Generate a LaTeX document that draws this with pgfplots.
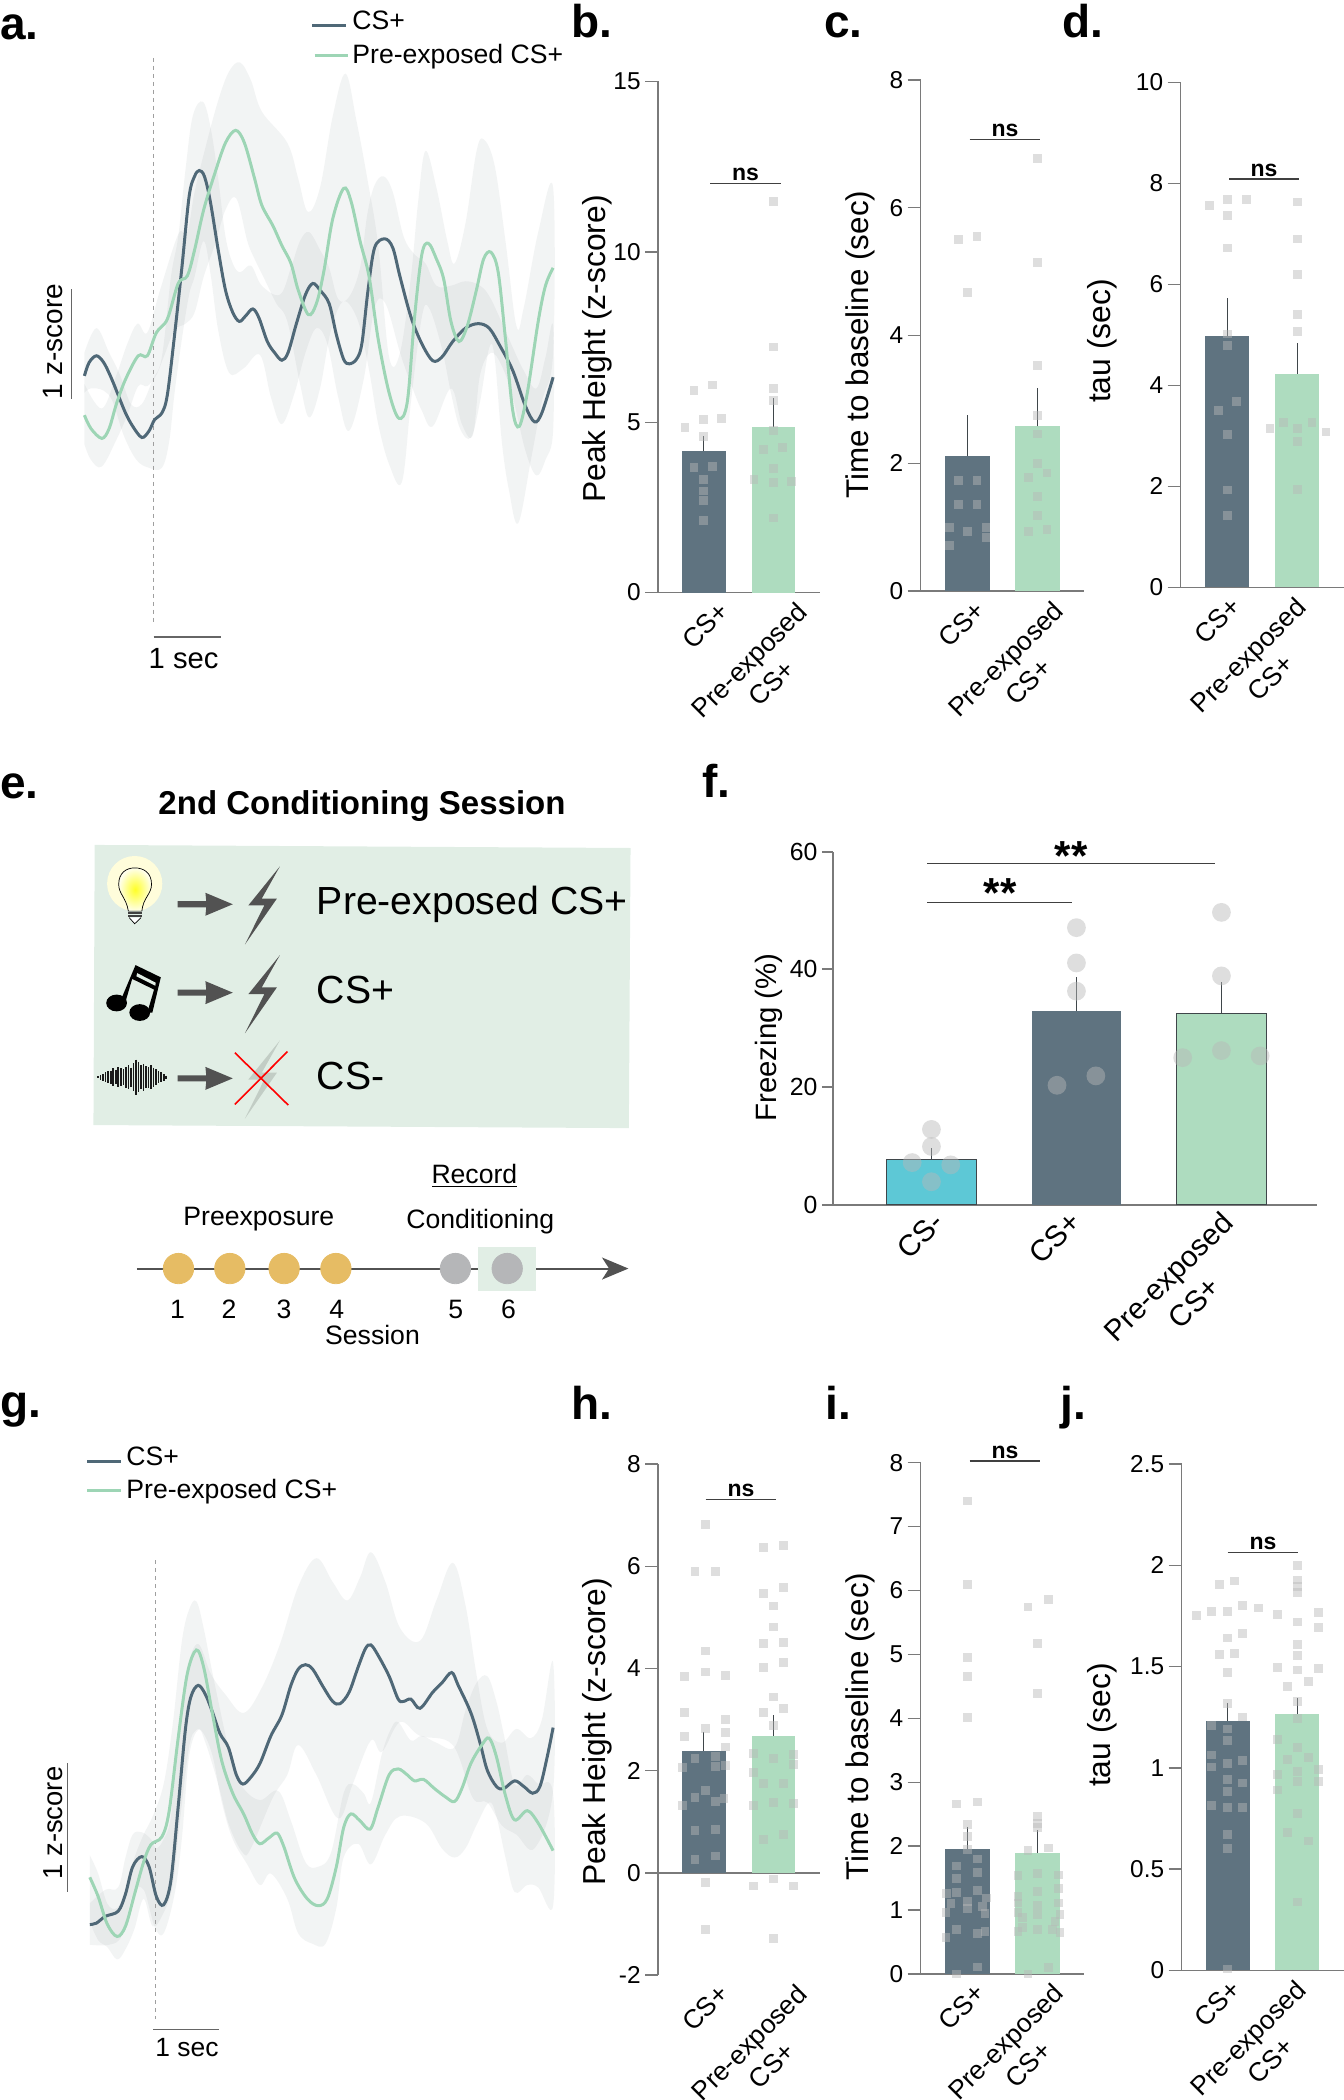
\documentclass[border=0pt]{standalone}
\usepackage{fontspec}
\setmainfont{Liberation Sans}
\usepackage{pgfplots}
\pgfplotsset{compat=1.18}
\definecolor{barD}{HTML}{5F7380}
\definecolor{barG}{HTML}{AEDCBF}
\definecolor{lineD}{HTML}{4F6877}
\definecolor{lineG}{HTML}{9DD5B5}
\definecolor{teal}{HTML}{5DC8D6}
\definecolor{axisgray}{HTML}{7A7A7A}
\definecolor{errc}{HTML}{3F464A}
\definecolor{ptgray}{HTML}{B8B8B8}
\definecolor{bandc}{HTML}{5F6F75}
\definecolor{boxg}{HTML}{E1EEE5}
\newcommand\fs[1]{\fontsize{#1}{#1}\selectfont}
\pgfplotsset{
  ovl/.style={hide axis,scale only axis,clip=false,y dir=reverse},
  trace/.style={hide axis,scale only axis,clip=false,y dir=reverse},
  band/.style={draw=none,fill=bandc,fill opacity=0.08,smooth,tension=0.6},
  mean/.style={line width=1.5pt,smooth,tension=0.55,no marks},
  mini/.style={scale only axis,clip=false,axis lines=left,
    axis line style={-,color=axisgray,line width=0.7pt},
    anchor=south west,
    tick align=outside,major tick length=6.5pt,
    ytick style={color=axisgray,line width=0.7pt},
    xtick style={draw=none},
    ytick pos=left,
    tick label style={font=\fs{12.2}},
    yticklabel style={inner xsep=0pt,xshift=-2pt},
    /pgf/number format/assume math mode=true,
    xticklabel style={rotate=45,anchor=north east,align=center,inner sep=0pt,
      font=\fontsize{13.2}{16}\selectfont,yshift=4pt},
    xticklabels={CS+,{Pre-exposed\\CS+}}},
  pts/.style={only marks,mark=square*,mark size=2.2pt,
    mark options={draw=ptgray,draw opacity=0,fill=ptgray,fill opacity=0.46}},
  cir/.style={only marks,mark=*,mark size=4.7pt,
    mark options={draw=ptgray,draw opacity=0,fill=ptgray,fill opacity=0.46}},
  bar/.style={ybar,bar shift=0pt,bar width=#1,draw=none,
    error bars/.cd,y dir=plus,y explicit,error mark=none,
    error bar style={draw=errc,line width=0.65pt},/pgfplots/.cd},
}
\begin{document}
\begin{tikzpicture}
\path[use as bounding box] (0,0) rectangle (672pt,1050pt);

% ---------- a
\begin{axis}[trace,anchor=south west,at={(42.2pt,738.6pt)},width=234.36pt,height=282.4pt,
  xmin=232,xmax=1521,ymin=130,ymax=1395]
\addplot[band] coordinates {(232,790)(265,735)(300,790)(330,840)(360,905)(390,905)(420,850)(445,800)(470,620)(490,530)(510,380)(530,260)(558,228)(580,290)(600,400)(620,530)(640,590)(660,610)(690,595)(720,640)(770,660)(800,600)(825,540)(850,520)(880,560)(905,600)(930,670)(960,665)(990,600)(1010,480)(1030,415)(1055,395)(1080,430)(1110,530)(1140,570)(1170,590)(1200,640)(1240,640)(1280,630)(1320,640)(1350,670)(1400,760)(1440,830)(1475,870)(1500,800)(1521,730)
(1521,965)(1500,1030)(1475,1065)(1445,1010)(1410,890)(1380,820)(1350,790)(1320,840)(1300,975)(1270,950)(1240,870)(1190,955)(1160,920)(1130,860)(1100,790)(1060,680)(1030,690)(1000,850)(960,965)(930,890)(900,770)(870,735)(840,790)(810,880)(775,950)(745,890)(715,795)(670,825)(630,835)(600,740)(580,620)(560,540)(535,620)(520,660)(500,760)(480,880)(465,990)(445,1048)(410,1048)(375,1030)(340,975)(310,900)(285,875)(250,870)(232,880)} -- cycle;
\addplot[band] coordinates {(232,860)(280,915)(320,840)(350,770)(378,725)(405,745)(440,650)(490,525)(515,520)(535,430)(565,330)(600,225)(630,160)(660,140)(690,180)(720,250)(790,320)(820,400)(847,475)(880,420)(915,260)(950,165)(980,270)(1010,400)(1040,550)(1070,800)(1100,790)(1130,620)(1150,450)(1170,338)(1200,420)(1230,540)(1250,590)(1280,500)(1310,340)(1330,312)(1360,370)(1390,540)(1420,730)(1440,690)(1480,520)(1521,420)
(1521,790)(1490,900)(1460,1030)(1425,1172)(1400,1100)(1380,990)(1360,800)(1345,780)(1320,900)(1295,980)(1265,960)(1240,880)(1215,780)(1180,690)(1160,710)(1130,900)(1105,1080)(1070,1040)(1040,950)(1015,830)(985,720)(945,675)(910,740)(880,870)(850,935)(825,860)(790,720)(760,680)(730,630)(700,580)(680,540)(650,445)(620,470)(590,550)(560,620)(535,700)(510,725)(480,740)(450,800)(430,840)(405,865)(380,865)(350,930)(320,985)(280,1045)(250,1030)(232,995)} -- cycle;
\addplot[gray!75,line width=0.7pt,dash pattern=on 2pt off 2pt,no marks] coordinates {(422,130)(422,1395)};
\addplot[mean,lineD] coordinates {(232,842)(245,812)(265,797)(285,812)(305,845)(325,885)(345,925)(365,955)(390,980)(410,965)(425,940)(445,925)(460,885)(480,750)(500,600)(520,440)(535,395)(548,382)(562,395)(578,450)(600,560)(620,650)(640,700)(658,720)(675,708)(695,692)(712,712)(735,765)(755,790)(775,807)(792,790)(815,725)(840,660)(860,635)(880,650)(905,680)(925,750)(945,805)(960,815)(980,805)(995,770)(1012,650)(1030,555)(1058,535)(1080,555)(1100,620)(1130,710)(1160,770)(1190,808)(1215,800)(1245,765)(1280,735)(1315,725)(1345,735)(1375,775)(1410,830)(1445,910)(1470,945)(1490,925)(1521,845)};
\addplot[mean,lineG] coordinates {(232,930)(250,960)(280,982)(300,960)(320,905)(345,850)(380,797)(405,797)(430,745)(460,715)(490,635)(515,618)(535,560)(560,470)(590,390)(620,320)(648,292)(672,320)(700,400)(720,460)(750,505)(775,550)(800,590)(820,650)(848,705)(870,680)(890,610)(915,490)(945,422)(965,450)(990,540)(1015,620)(1040,760)(1070,880)(1097,937)(1120,900)(1140,710)(1160,570)(1178,545)(1200,580)(1220,625)(1240,720)(1262,765)(1285,730)(1310,650)(1330,580)(1350,565)(1370,610)(1390,760)(1410,920)(1428,955)(1450,880)(1480,720)(1500,640)(1521,600)};
\end{axis}

% ---------- g
\begin{axis}[trace,anchor=south west,at={(44.9pt,38.6pt)},width=231.65pt,height=236.45pt,
  xmin=247,xmax=1521,ymin=370,ymax=1400]
\addplot[band] coordinates {(247,1140)(290,1110)(325,1105)(345,1040)(365,990)(390,985)(415,1000)(430,1020)(450,1000)(470,950)(490,780)(515,630)(545,575)(580,640)(620,685)(670,725)(720,670)(770,575)(820,450)(870,388)(915,440)(955,480)(990,430)(1020,375)(1060,440)(1100,540)(1155,568)(1200,480)(1245,398)(1280,490)(1310,640)(1340,760)(1380,790)(1420,760)(1460,780)(1490,740)(1521,615)
(1521,895)(1470,1020)(1420,990)(1380,970)(1340,920)(1300,910)(1245,795)(1155,775)(1100,745)(1050,810)(1020,785)(970,880)(930,955)(870,860)(820,795)(790,860)(750,910)(690,1020)(668,1030)(630,970)(600,880)(565,790)(545,762)(520,820)(500,1000)(480,1120)(450,1205)(425,1190)(395,1110)(365,1120)(335,1210)(300,1230)(247,1230)} -- cycle;
\addplot[band] coordinates {(247,1035)(270,1075)(295,1140)(322,1150)(345,1110)(370,1040)(395,990)(420,950)(450,880)(475,750)(500,570)(520,500)(540,482)(560,540)(590,660)(640,840)(670,890)(715,915)(765,895)(800,960)(840,1050)(875,1060)(910,1030)(945,900)(970,880)(1000,900)(1020,920)(1050,815)(1075,760)(1095,745)(1130,785)(1160,775)(1200,790)(1250,800)(1280,720)(1310,660)(1340,645)(1365,700)(1385,770)(1415,880)(1450,860)(1480,880)(1521,900)
(1521,1145)(1480,1105)(1450,1100)(1415,1115)(1390,1040)(1365,950)(1345,920)(1310,970)(1280,1020)(1250,1040)(1215,1020)(1170,965)(1100,950)(1060,990)(1020,1055)(985,1010)(945,1040)(925,1150)(895,1228)(860,1228)(820,1205)(790,1130)(745,1075)(715,1100)(680,1055)(640,1000)(610,920)(585,820)(560,770)(540,762)(520,800)(495,960)(475,1100)(450,1160)(420,1190)(395,1130)(370,1195)(345,1240)(322,1262)(295,1235)(270,1220)(247,1180)} -- cycle;
\addplot[gray!75,line width=0.7pt,dash pattern=on 2pt off 2pt,no marks] coordinates {(428,392)(428,1392)};
\addplot[mean,lineD] coordinates {(247,1186)(265,1183)(290,1168)(325,1157)(345,1120)(365,1060)(390,1038)(410,1060)(430,1125)(450,1143)(470,1090)(490,930)(510,760)(525,690)(545,665)(565,685)(585,725)(605,770)(628,800)(650,860)(668,880)(690,865)(715,835)(745,775)(775,730)(800,665)(820,630)(840,620)(860,630)(890,670)(915,700)(935,705)(960,680)(985,625)(1005,585)(1020,577)(1040,600)(1070,645)(1095,695)(1110,700)(1130,695)(1155,715)(1190,680)(1215,660)(1242,637)(1260,665)(1295,725)(1320,790)(1340,850)(1365,885)(1385,890)(1415,873)(1440,885)(1465,900)(1485,885)(1505,820)(1521,757)};
\addplot[mean,lineG] coordinates {(247,1083)(270,1125)(295,1185)(322,1212)(345,1190)(370,1120)(395,1050)(415,1012)(445,995)(465,940)(490,780)(515,640)(540,588)(560,625)(585,730)(610,830)(640,900)(670,945)(695,990)(715,1010)(740,997)(762,987)(780,1015)(810,1085)(845,1130)(875,1145)(900,1130)(925,1060)(945,975)(965,945)(990,960)(1018,978)(1040,930)(1070,860)(1095,847)(1120,860)(1140,873)(1165,870)(1195,890)(1225,908)(1250,918)(1270,890)(1295,835)(1325,795)(1345,780)(1365,820)(1390,905)(1415,958)(1450,938)(1480,965)(1521,1025)};
\end{axis}

% ---------- b
\begin{axis}[mini,at={(329pt,753.7pt)},width=80.75pt,height=255.55pt,
  xmin=-0.656,xmax=1.66,ymin=0,ymax=15,ytick={0,5,10,15},xtick={0.27,1.392}]
\addplot[bar=0.63,fill=barD] coordinates {(0,4.15) +- (0,0.44)};
\addplot[bar=0.63,fill=barG] coordinates {(1,4.85) +- (0,0.86)};
\addplot[pts] coordinates {(-0.14,5.94)(0.125,6.09)(-0.27,4.84)(0,5.08)(0.26,5.11)(0,4.58)(-0.14,3.67)(0.125,3.70)(0,3.31)(0,2.98)(0,2.70)(0,2.12)};
\addplot[pts] coordinates {(1,11.47)(1,7.21)(1,6.0)(1,5.63)(1,4.75)(0.86,4.21)(1.13,4.26)(1,3.63)(0.72,3.32)(1,3.22)(1.26,3.25)(1,2.19)};
\end{axis}

% ---------- c
\begin{axis}[mini,at={(460.25pt,754.4pt)},width=81.5pt,height=255.6pt,
  xmin=-0.671,xmax=1.657,ymin=0,ymax=8,ytick={0,2,4,6,8},xtick={0.165,1.282}]
\addplot[bar=0.63,fill=barD] coordinates {(0,2.12) +- (0,0.63)};
\addplot[bar=0.63,fill=barG] coordinates {(1,2.58) +- (0,0.60)};
\addplot[pts] coordinates {(-0.13,5.50)(0.136,5.55)(0,4.68)(-0.13,1.73)(0.136,1.73)(-0.13,1.36)(0.136,1.36)(-0.257,1.0)(0.264,1.0)(0,0.93)(0.264,0.84)(-0.257,0.71)};
\addplot[pts] coordinates {(1,6.77)(1,5.14)(1,3.53)(1,2.75)(1,2.46)(1,2.0)(0.87,1.78)(1.136,1.85)(1,1.48)(1,1.19)(1.136,0.96)(0.87,0.93)};
\end{axis}

% ---------- d
\begin{axis}[mini,at={(590.25pt,756.25pt)},width=81.5pt,height=252.55pt,
  xmin=-0.67,xmax=1.66,ymin=0,ymax=10,ytick={0,2,4,6,8,10},xtick={0.105,1.033}]
\addplot[bar=0.63,fill=barD] coordinates {(0,4.97) +- (0,0.76)};
\addplot[bar=0.63,fill=barG] coordinates {(1,4.23) +- (0,0.61)};
\addplot[pts] coordinates {(-0.26,7.57)(0,7.68)(0.27,7.68)(0,7.36)(0,6.72)(0,5.02)(0,4.79)(0.136,3.69)(-0.13,3.51)(0,3.03)(0,1.93)(0,1.43)};
\addplot[pts] coordinates {(1,7.63)(1,6.90)(1,6.2)(1,5.41)(1,5.07)(0.8,3.26)(1.21,3.26)(0.61,3.14)(1,3.15)(1.41,3.08)(1,2.89)(1,1.94)};
\end{axis}

% ---------- f
\begin{axis}[mini,at={(416.65pt,447.65pt)},width=242.05pt,height=176.45pt,
  axis line style={-,color=axisgray,line width=1pt},
  ytick style={color=axisgray,line width=1pt},
  major tick length=5.7pt,
  xmin=-0.677,xmax=2.662,ymin=0,ymax=60,ytick={0,20,40,60},xtick={0.043,0.992,2.036},
  xticklabels={CS-,CS+,{Pre-exposed\\CS+}},
  xticklabel style={font=\fontsize{14.8}{18.5}\selectfont,yshift=1pt},
  tick label style={font=\fs{12.4}}]
\addplot[bar=0.615,fill=teal,draw=errc] coordinates {(0,7.74) +- (0,1.83)};
\addplot[bar=0.615,fill=barD] coordinates {(1,32.9) +- (0,5.8)};
\addplot[bar=0.615,fill=barG,draw=errc] coordinates {(2,32.6) +- (0,5.3)};
\addplot[cir] coordinates {(0,12.8)(0,9.9)(-0.133,7.16)(0.133,6.77)(0,3.9)};
\addplot[cir] coordinates {(1,47.1)(1,41.1)(1,36.3)(1.134,21.9)(0.866,20.3)};
\addplot[cir] coordinates {(2,49.7)(2,38.9)(2,26.2)(2.267,25.3)(1.733,25)};
\end{axis}

% ---------- h
\begin{axis}[mini,at={(329pt,62.5pt)},width=81pt,height=255.5pt,
  x axis line style={draw=none},
  xmin=-0.656,xmax=1.667,ymin=-2,ymax=8,ytick={-2,0,2,4,6,8},xtick={0.27,1.392}]
\addplot[axisgray,line width=0.7pt,no marks] coordinates {(-0.656,0)(1.667,0)};
\addplot[bar=0.63,fill=barD] coordinates {(0,2.39) +- (0,0.36)};
\addplot[bar=0.63,fill=barG] coordinates {(1,2.68) +- (0,0.41)};
\addplot[pts] coordinates {(0.02,6.81)(-0.125,5.89)(0.17,5.89)(0.02,4.34)(0.02,3.93)(-0.276,3.84)(0.31,3.86)(-0.276,3.14)(0.31,3.0)(0.02,2.82)(-0.276,2.67)(0.31,2.75)(0.31,2.46)(-0.125,2.24)(0.17,2.28)(-0.3,2.06)(0.17,2.08)(0.31,2.10)(0.02,1.61)(-0.125,1.47)(0.29,1.45)(0.17,1.40)(-0.3,1.31)(-0.125,0.83)(0.17,0.84)(0.17,0.33)(-0.125,0.26)(0.02,-0.19)(0.02,-1.11)};
\addplot[pts] coordinates {(0.853,6.36)(1.147,6.41)(1.147,5.58)(0.853,5.46)(1,5.22)(1,4.81)(0.853,4.49)(1.147,4.50)(1.147,4.12)(0.853,4.02)(1,3.44)(1.147,3.21)(0.853,3.13)(1,2.89)(0.71,2.34)(1.29,2.32)(1,2.24)(1.29,2.12)(0.71,1.97)(0.853,1.74)(1.147,1.74)(1,1.38)(1.29,1.35)(0.71,1.31)(1.147,0.75)(0.853,0.65)(1,-0.12)(0.71,-0.26)(1.29,-0.26)(1,-1.29)};
\end{axis}

% ---------- i
\begin{axis}[mini,at={(460.25pt,63pt)},width=81.75pt,height=255.7pt,
  xmin=-0.671,xmax=1.664,ymin=0,ymax=8,ytick={0,1,2,3,4,5,6,7,8},xtick={0.165,1.282}]
\addplot[bar=0.63,fill=barD] coordinates {(0,1.95) +- (0,0.35)};
\addplot[bar=0.63,fill=barG] coordinates {(1,1.89) +- (0,0.36)};
\addplot[pts] coordinates {(0,7.40)(0,6.09)(0,4.95)(0,4.66)(0,4.01)(-0.157,2.66)(0.143,2.69)(0,2.34)(0,2.15)(0,1.95)(-0.157,1.69)(0.143,1.80)(-0.157,1.49)(0.143,1.59)(-0.3,1.26)(-0.157,1.28)(0.143,1.31)(0.27,1.19)(-0.236,1.10)(0,1.14)(0,1.03)(0.214,1.05)(-0.307,0.96)(0.25,0.95)(-0.157,0.70)(0.25,0.67)(0.143,0.63)(-0.307,0.57)(0.143,0.11)(-0.157,0)};
\addplot[pts] coordinates {(1,5.17)(0.864,5.74)(1.157,5.86)(1,4.39)(1,2.47)(1,2.36)(1,2.29)(0.864,1.93)(1.157,1.97)(0.72,1.54)(1,1.57)(1.3,1.55)(1.3,1.34)(1,1.29)(0.72,1.21)(0.72,1.11)(1,1.07)(1.3,1.11)(0.72,0.96)(1,0.93)(1.32,0.93)(0.79,0.88)(1.25,0.82)(0.79,0.73)(0.72,0.67)(1,0.70)(1.21,0.70)(1.32,0.65)(1.157,0.10)(0.864,0)};
\end{axis}

% ---------- j
\begin{axis}[mini,at={(590.75pt,64.8pt)},width=81pt,height=253.2pt,
  xmin=-0.66,xmax=1.66,ymin=0,ymax=2.5,ytick={0,0.5,1,1.5,2,2.5},xtick={0.105,1.033}]
\addplot[bar=0.63,fill=barD] coordinates {(0,1.233) +- (0,0.088)};
\addplot[bar=0.63,fill=barG] coordinates {(1,1.265) +- (0,0.082)};
\addplot[pts] coordinates {(-0.115,1.904)(0.1,1.922)(-0.45,1.752)(-0.23,1.77)(0,1.773)(0.215,1.80)(0.444,1.789)(0,1.641)(0.215,1.662)(-0.115,1.56)(0.1,1.564)(0,1.469)(0,1.317)(0.215,1.251)(-0.23,1.208)(0,1.192)(0,1.136)(-0.23,1.063)(0.215,1.038)(0,1.02)(-0.23,1.004)(0,0.943)(0.215,0.925)(0,0.882)(-0.23,0.814)(0,0.803)(0.215,0.803)(0,0.671)(0,0.603)(0,0.007)};
\addplot[pts] coordinates {(1,2.0)(1,1.927)(1,1.895)(1,1.866)(0.717,1.759)(1.3,1.766)(1,1.72)(1.3,1.691)(1,1.61)(1,1.555)(0.717,1.494)(1,1.483)(1.3,1.492)(1.154,1.426)(0.86,1.403)(1,1.328)(1,1.242)(0.717,1.14)(1,1.102)(1.154,1.05)(0.86,1.04)(1.3,0.993)(1,0.982)(0.717,0.966)(1,0.932)(1.3,0.932)(0.717,0.891)(1,0.775)(0.86,0.68)(1.154,0.639)(1,0.338)};
\end{axis}

% ---------- panel e schematic (its own axis, 1568 units square)
\begin{axis}[ovl,anchor=south west,at={(0pt,370pt)},width=330pt,height=300pt,
  xmin=0,xmax=1568,ymin=0,ymax=1568]
\fill[boxg] (225,222) -- (1498,230) -- (1494,962) -- (222,954) -- cycle;
% bulb
\fill[yellow!14!white] (320,323) circle [radius=13.8pt];
\shade[inner color=yellow!85!white,outer color=yellow!8!white,draw=black,line width=0.35pt]
 (305,395) .. controls (300,360) and (282,350) .. (282,325) .. controls (282,295) and (300,282) .. (320,282) .. controls (342,282) and (360,295) .. (360,325) .. controls (360,350) and (340,360) .. (337,395) -- cycle;
\draw[black,line width=0.35pt,fill=white] (307,412) -- (320,428) -- (335,412);
\fill[black!75] (304,396) rectangle (338,402);
\fill[black!75] (304,405) rectangle (338,411);
% arrows, bolts
\fill[black!68] (422,369) -- (490,369) -- (488,347) -- (553,377) -- (488,407) -- (490,385) -- (422,385) -- cycle;
\fill[black!68] (422,600) -- (490,600) -- (488,578) -- (553,608) -- (488,638) -- (490,616) -- (422,616) -- cycle;
\fill[black!68] (422,824) -- (490,824) -- (488,802) -- (553,832) -- (488,862) -- (490,840) -- (422,840) -- cycle;
\fill[black!68] (665,278) -- (590,380) -- (628,380) -- (582,482) -- (658,362) -- (622,362) -- cycle;
\fill[black!68] (665,510) -- (590,612) -- (628,612) -- (582,714) -- (658,594) -- (622,594) -- cycle;
\fill[black!14!boxg] (665,733) -- (590,835) -- (628,835) -- (582,937) -- (658,817) -- (622,817) -- cycle;
\draw[red,line width=0.8pt] (558,765) -- (685,902) (683,762) -- (558,900);
% music notes
\fill[black] (277,635) ellipse [x radius=5.2pt,y radius=4.2pt];
\fill[black] (332,660) ellipse [x radius=5.2pt,y radius=4.2pt];
\fill[black] (322,536) -- (382,568) -- (362,660) -- (350,660) -- (366,600) -- (314,572) -- (296,640) -- (286,630) -- cycle;
\fill[boxg] (326,557) -- (370,582) -- (369,590) -- (324,565) -- cycle;
% sound wave
\draw[black!90,line width=0.8pt] (233,826)--(233,832) (239,823)--(239,835) (245,820)--(245,838) (251,816)--(251,842) (257,814)--(257,844) (263,812)--(263,846) (269,806)--(269,852) (275,810)--(275,848) (281,803)--(281,855) (287,806)--(287,852) (293,808)--(293,850) (299,802)--(299,858) (305,798)--(305,860) (311,804)--(311,854) (317,792)--(317,866) (323,783)--(323,875) (329,790)--(329,868) (335,798)--(335,860) (341,794)--(341,864) (347,800)--(347,858) (353,802)--(353,856) (359,798)--(359,860) (365,804)--(365,854) (371,808)--(371,850) (377,814)--(377,844) (383,816)--(383,842) (389,820)--(389,838) (395,825)--(395,833);
% timeline
\draw[black!68,line width=1pt] (325,1329) -- (1450,1329);
\fill[black!68] (1430,1300) -- (1493,1329) -- (1430,1358) -- (1447,1329) -- cycle;
\fill[boxg] (1135,1272) rectangle (1273,1387);
\addplot[only marks,mark=*,mark size=7.6pt,mark options={draw={rgb,255:red,230;green,188;blue,100},fill={rgb,255:red,230;green,188;blue,100}}] coordinates {(424,1329)(546,1329)(675,1329)(798,1329)};
\addplot[only marks,mark=*,mark size=7.6pt,mark options={draw={rgb,255:red,181;green,182;blue,184},fill={rgb,255:red,181;green,182;blue,184}}] coordinates {(1082,1329)(1205,1329)};
% texts
\node[anchor=base,inner sep=0pt,font=\bfseries\fs{16.5}] at (860,142) {2nd Conditioning Session};
\node[anchor=base west,inner sep=0pt,font=\fs{19.6}] at (752,405) {Pre-exposed CS+};
\node[anchor=base west,inner sep=0pt,font=\fs{19.6}] at (752,636) {CS+};
\node[anchor=base west,inner sep=0pt,font=\fs{19.6}] at (752,861) {CS-};
\node[anchor=base,inner sep=0pt,font=\fs{13.3}] at (1127,1107) {Record};
\draw[black,line width=0.4pt] (1027,1115) -- (1228,1115);
\node[anchor=base,inner sep=0pt,font=\fs{13.3}] at (615,1217) {Preexposure};
\node[anchor=base,inner sep=0pt,font=\fs{13.3}] at (1141,1224) {Conditioning};
\node[anchor=base,inner sep=0pt,font=\fs{13.3}] at (885,1527) {Session};
\node[anchor=base,inner sep=0pt,font=\fs{13.3}] at (422,1459) {1};
\node[anchor=base,inner sep=0pt,font=\fs{13.3}] at (544,1459) {2};
\node[anchor=base,inner sep=0pt,font=\fs{13.3}] at (675,1459) {3};
\node[anchor=base,inner sep=0pt,font=\fs{13.3}] at (800,1459) {4};
\node[anchor=base,inner sep=0pt,font=\fs{13.3}] at (1083,1459) {5};
\node[anchor=base,inner sep=0pt,font=\fs{13.3}] at (1208,1459) {6};
\end{axis}

% ---------- overlay in full-size pixels
\begin{axis}[ovl,anchor=south west,at={(0pt,0pt)},width=672pt,height=1050pt,
  xmin=0,xmax=1344,ymin=0,ymax=2100]
% panel letters
\node[anchor=base west,inner sep=0pt,font=\bfseries\fs{23}] at (0,39) {a.};
\node[anchor=base west,inner sep=0pt,font=\bfseries\fs{23}] at (571,37) {b.};
\node[anchor=base west,inner sep=0pt,font=\bfseries\fs{23}] at (824,37) {c.};
\node[anchor=base west,inner sep=0pt,font=\bfseries\fs{23}] at (1062,37) {d.};
\node[anchor=base west,inner sep=0pt,font=\bfseries\fs{23}] at (0,798) {e.};
\node[anchor=base west,inner sep=0pt,font=\bfseries\fs{23}] at (702,797) {f.};
\node[anchor=base west,inner sep=0pt,font=\bfseries\fs{23}] at (0,1417.6) {g.};
\node[anchor=base west,inner sep=0pt,font=\bfseries\fs{23}] at (571,1419) {h.};
\node[anchor=base west,inner sep=0pt,font=\bfseries\fs{23}] at (825,1419) {i.};
\node[anchor=base west,inner sep=0pt,font=\bfseries\fs{23}] at (1060,1419) {j.};
% legends
\draw[lineD,line width=1.5pt] (312,25.4) -- (345.5,25.4);
\node[anchor=base west,inner sep=0pt,font=\fs{13.3}] at (352,29) {CS+};
\draw[lineG,line width=1.5pt] (314.5,55) -- (348,55);
\node[anchor=base west,inner sep=0pt,font=\fs{13.3}] at (352,63.8) {Pre-exposed CS+};
\draw[lineD,line width=1.5pt] (87,1461) -- (121,1461);
\node[anchor=base west,inner sep=0pt,font=\fs{13.3}] at (126,1465) {CS+};
\draw[lineG,line width=1.5pt] (87,1490) -- (121,1490);
\node[anchor=base west,inner sep=0pt,font=\fs{13.3}] at (126,1498.5) {Pre-exposed CS+};
% scale bars
\draw[black!60,line width=0.7pt] (153.5,637) -- (220.7,637);
\node[anchor=base,inner sep=0pt,font=\fs{14.6}] at (183.6,668) {1 sec};
\draw[black!60,line width=0.8pt] (71.3,289) -- (71.3,399);
\node[anchor=base,rotate=90,inner sep=0pt,font=\fs{14}] at (63,341.5) {1 z-score};
\draw[black!60,line width=0.7pt] (153,2029.7) -- (219,2029.7);
\node[anchor=base,inner sep=0pt,font=\fs{13.2}] at (187,2056) {1 sec};
\draw[black!60,line width=0.8pt] (67.6,1763) -- (67.6,1892);
\node[anchor=base,rotate=90,inner sep=0pt,font=\fs{13.7}] at (63,1823) {1 z-score};
% y labels
\node[anchor=base,rotate=90,inner sep=0pt,font=\fs{15.9}] at (605,349) {Peak Height (z-score)};
\node[anchor=base,rotate=90,inner sep=0pt,font=\fs{15.7}] at (868,344.5) {Time to baseline (sec)};
\node[anchor=base,rotate=90,inner sep=0pt,font=\fs{15.9}] at (1110,341) {tau (sec)};
\node[anchor=base,rotate=90,inner sep=0pt,font=\fs{15.9}] at (605,1732) {Peak Height (z-score)};
\node[anchor=base,rotate=90,inner sep=0pt,font=\fs{15.7}] at (868,1726.6) {Time to baseline (sec)};
\node[anchor=base,rotate=90,inner sep=0pt,font=\fs{15.9}] at (1110,1725) {tau (sec)};
\node[anchor=base,rotate=90,inner sep=0pt,font=\fs{14.7}] at (776.6,1037.5) {Freezing (\%)};
% significance
\draw[black!75,line width=0.7pt] (710,183.4) -- (780.5,183.4);
\node[anchor=base,inner sep=0pt,font=\bfseries\fs{11.5}] at (745.5,180.6) {ns};
\draw[black!75,line width=0.7pt] (969.5,139.7) -- (1040,139.7);
\node[anchor=base,inner sep=0pt,font=\bfseries\fs{11.5}] at (1005,136.9) {ns};
\draw[black!75,line width=0.7pt] (1229,178.8) -- (1299,178.8);
\node[anchor=base,inner sep=0pt,font=\bfseries\fs{11.5}] at (1264,176) {ns};
\draw[black!75,line width=0.7pt] (705.5,1499.4) -- (776,1499.4);
\node[anchor=base,inner sep=0pt,font=\bfseries\fs{11.5}] at (741,1496.6) {ns};
\draw[black!75,line width=0.7pt] (969.5,1460.8) -- (1040,1460.8);
\node[anchor=base,inner sep=0pt,font=\bfseries\fs{11.5}] at (1005,1458) {ns};
\draw[black!75,line width=0.7pt] (1227.5,1552.6) -- (1298,1552.6);
\node[anchor=base,inner sep=0pt,font=\bfseries\fs{11.5}] at (1263,1549.9) {ns};
\draw[black!75,line width=0.7pt] (927,863.7) -- (1215,863.7);
\node[anchor=base,inner sep=0pt,font=\bfseries\fs{21}] at (1071,870) {**};
\draw[black!75,line width=0.7pt] (927,902.4) -- (1072,902.4);
\node[anchor=base,inner sep=0pt,font=\bfseries\fs{21}] at (1000,907) {**};
\end{axis}
\end{tikzpicture}
\end{document}
